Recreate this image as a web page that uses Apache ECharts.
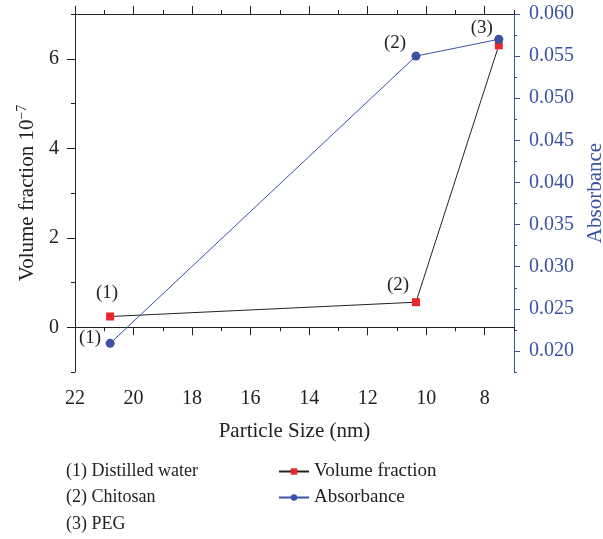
<!DOCTYPE html>
<html>
<head>
<meta charset="utf-8">
<script src="https://cdn.jsdelivr.net/npm/echarts@6/dist/echarts.min.js"></script>
<style>html,body{margin:0;padding:0;background:#fff}#chart{width:603px;height:539px}</style>
</head>
<body>
<div id="chart"></div>
<script>
// ---- data ----
const particleSize = [20.8, 10.35, 7.52];
const volumeFraction = [0.24, 0.56, 6.3];
const absorbance = [0.0209, 0.055, 0.057];
const volumeLabels = ['(1)', '(2)', ''];
const absorbanceLabels = ['(1)', '(2)', '(3)'];
const notes = ['(1) Distilled water', '(2) Chitosan', '(3) PEG'];
const xMajorTicks = [8, 10, 12, 14, 16, 18, 20, 22];
const yLeftMajorTicks = [0, 2, 4, 6];
const yRightMajorTicks = [0.020, 0.025, 0.030, 0.035, 0.040, 0.045, 0.050, 0.055, 0.060];

const FONT = 'Liberation Serif';
const BLACK = '#222';
const BLUE = '#3a52a3';
const RED = '#e8262b';

const volOffsets = [[-3, -23], [-18, -17], [0, 0]];
const absOffsets = [[-20, -5], [-21, -13], [-17, -11]];

const chart = echarts.init(document.getElementById('chart'));

function lineStyle(c){ return {lineStyle:{color:c,width:1}}; }

const xBase = {type:'value', min:7, max:22, inverse:true, gridIndex:0, splitLine:{show:false}};
const yLeftBase = {type:'value', min:-1, max:7, splitLine:{show:false}};
const yRightBase = {type:'value', min:0.0175, max:0.060, splitLine:{show:false}};

const option = {
  animation:false,
  textStyle:{fontFamily:FONT},
  grid:{left:75, right:89, top:14, bottom:167, containLabel:false, outerBoundsMode:'none'},
  legend:{
    orient:'vertical', left:273, top:457, itemWidth:30, itemHeight:8, itemGap:7,
    textStyle:{fontFamily:FONT, fontSize:19, color:BLACK},
    data:['Volume fraction','Absorbance']
  },
  graphic: notes.map((t,i)=>({
    type:'text', left:66, top:462 + i*26.4,
    style:{text:t, fontFamily:FONT, fontSize:18, fill:BLACK}
  })),
  xAxis:[
    Object.assign({}, xBase, {
      position:'bottom', interval:1,
      axisLine:Object.assign({show:true}, lineStyle(BLACK)),
      axisTick:{show:true, length:4, lineStyle:{color:BLACK,width:1}},
      axisLabel:{margin:17, fontSize:20, color:BLACK, fontFamily:FONT,
        formatter:v=> (Math.round(v)%2===0 ? String(Math.round(v)) : '')},
      name:'Particle Size (nm)', nameLocation:'middle', nameGap:49,
      nameTextStyle:{fontSize:21, color:BLACK, fontFamily:FONT}
    }),
    Object.assign({}, xBase, {
      position:'bottom', axisLine:{show:false},
      axisTick:{show:true, length:8, customValues:xMajorTicks, lineStyle:{color:BLACK,width:1}},
      axisLabel:{show:false}
    }),
    Object.assign({}, xBase, {
      position:'top', interval:1,
      axisLine:Object.assign({show:true}, lineStyle(BLACK)),
      axisTick:{show:true, length:4, lineStyle:{color:BLACK,width:1}},
      axisLabel:{show:false}
    }),
    Object.assign({}, xBase, {
      position:'top', axisLine:{show:false},
      axisTick:{show:true, length:8, customValues:xMajorTicks, lineStyle:{color:BLACK,width:1}},
      axisLabel:{show:false}
    })
  ],
  yAxis:[
    Object.assign({}, yLeftBase, {
      position:'left', interval:1,
      axisLine:Object.assign({show:true}, lineStyle(BLACK)),
      axisTick:{show:true, length:4, lineStyle:{color:BLACK,width:1}},
      axisLabel:{margin:16, fontSize:20, color:BLACK, fontFamily:FONT,
        formatter:v=> (Math.round(v)%2===0 && Math.round(v)>=0 ? String(Math.round(v)) : '')},
      name:'Volume fraction 10{sup|−7}', nameLocation:'middle', nameGap:36,
      nameTextStyle:{fontSize:21, color:BLACK, fontFamily:FONT,
        rich:{sup:{fontSize:14, fontFamily:FONT, color:BLACK, verticalAlign:'top', padding:[0,0,10,0]}}}
    }),
    Object.assign({}, yLeftBase, {
      position:'left', axisLine:{show:false},
      axisTick:{show:true, length:8, customValues:yLeftMajorTicks, lineStyle:{color:BLACK,width:1}},
      axisLabel:{show:false}
    }),
    Object.assign({}, yRightBase, {
      position:'right', interval:0.0025,
      axisLine:Object.assign({show:true}, lineStyle(BLUE)),
      axisTick:{show:true, length:3, lineStyle:{color:BLUE,width:1}},
      axisLabel:{margin:15, fontSize:20, color:BLUE, fontFamily:FONT,
        formatter:v=>{ const k=v*200; return Math.abs(k-Math.round(k))<1e-6 ? v.toFixed(3) : ''; }},
      name:'Absorbance', nameLocation:'middle', nameGap:70, nameRotate:90,
      nameTextStyle:{fontSize:21, color:BLUE, fontFamily:FONT}
    }),
    Object.assign({}, yRightBase, {
      position:'right', axisLine:{show:false},
      axisTick:{show:true, length:6, customValues:yRightMajorTicks, lineStyle:{color:BLUE,width:1}},
      axisLabel:{show:false}
    })
  ],
  series:[
    {
      name:'Volume fraction', type:'line', xAxisIndex:0, yAxisIndex:0,
      data: particleSize.map((x,i)=>({value:[x, volumeFraction[i]],
        label:{show: volumeLabels[i] !== '', formatter: volumeLabels[i], offset: volOffsets[i]}})),
      symbol:'rect', symbolSize:8,
      itemStyle:{color:RED},
      lineStyle:{color:BLACK, width:1},
      label:{show:true, position:'inside', fontSize:19, fontFamily:FONT, color:BLACK},
      z:2
    },
    {
      name:'Absorbance', type:'line', xAxisIndex:0, yAxisIndex:2,
      data: particleSize.map((x,i)=>({value:[x, absorbance[i]],
        label:{show:true, formatter: absorbanceLabels[i], offset: absOffsets[i]}})),
      symbol:'circle', symbolSize:9,
      itemStyle:{color:BLUE},
      lineStyle:{color:BLUE, width:1},
      label:{show:true, position:'inside', fontSize:19, fontFamily:FONT, color:BLACK},
      z:3
    }
  ]
};
chart.setOption(option);
</script>
</body>
</html>
